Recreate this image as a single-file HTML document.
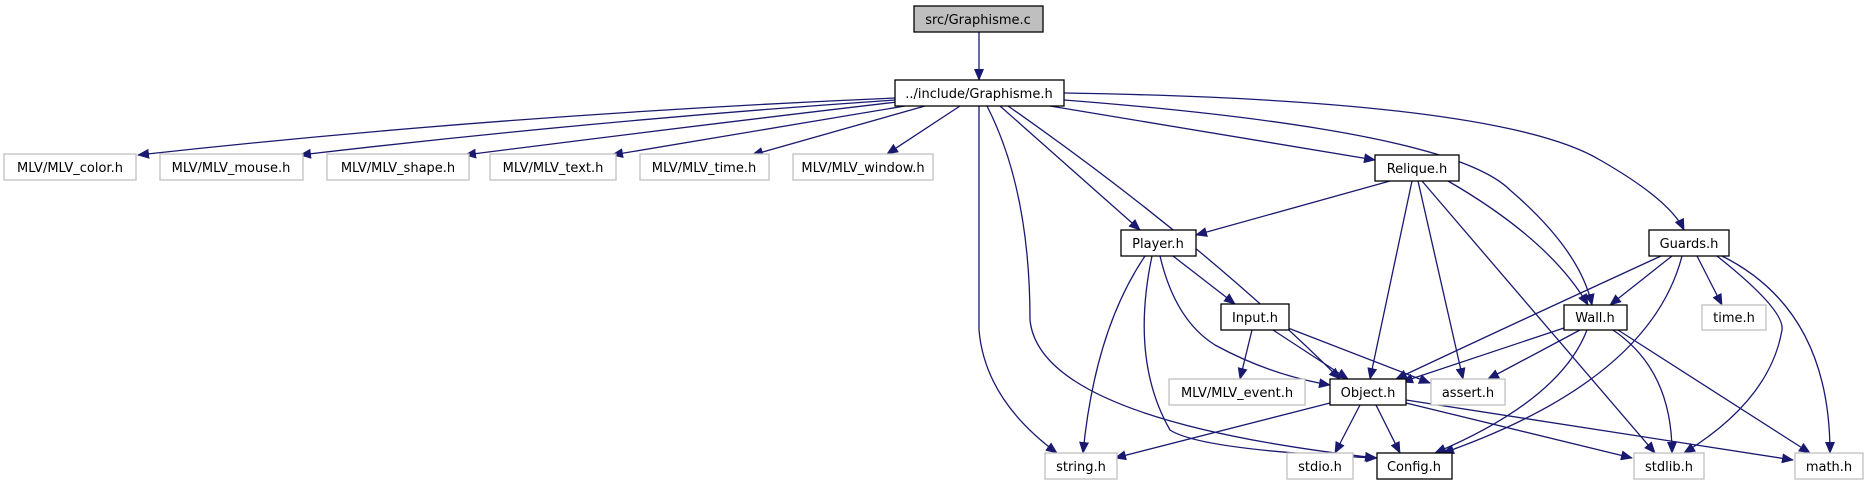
<!DOCTYPE html>
<html><head><meta charset="utf-8"><style>
html,body{margin:0;padding:0;background:#fff;}
svg{display:block;}
text{font-family:"DejaVu Sans","Liberation Sans",sans-serif;font-size:13px;fill:#000;text-anchor:middle;}
.g{fill:#fff;stroke:#bfbfbf;stroke-width:1.3;}
.b{fill:#fff;stroke:#000;stroke-width:1.3;}
.e{fill:none;stroke:#191970;stroke-width:1.3;}
</style></head><body>
<svg width="1869" height="485" viewBox="0 0 1869 485" xmlns="http://www.w3.org/2000/svg">
<defs>
<marker id="a" markerWidth="12" markerHeight="10" refX="11" refY="5" orient="auto" markerUnits="userSpaceOnUse">
<polygon points="0,0 12,5 0,10" fill="#191970"/>
</marker>
</defs>
<g marker-end="url(#a)">
<path class="e" d="M979,32 L979,80"/>
<path class="e" d="M895,98 Q500,115 138,155"/>
<path class="e" d="M895,100 Q600,120 300,155"/>
<path class="e" d="M897,102 Q700,125 465,155"/>
<path class="e" d="M905,106 Q760,130 612,155"/>
<path class="e" d="M925,106 Q840,130 752,155"/>
<path class="e" d="M960,106 L887,154"/>
<path class="e" d="M979,106 L979,330 Q985,400 1057,453"/>
<path class="e" d="M987,106 Q1030,190 1030,320 Q1040,420 1376,458"/>
<path class="e" d="M1000,106 L1140,230"/>
<path class="e" d="M1008,106 Q1200,240 1340,379"/>
<path class="e" d="M1050,106 L1375,160"/>
<path class="e" d="M1064,100 Q1450,130 1510,190 Q1580,250 1592,305"/>
<path class="e" d="M1064,93 Q1500,100 1600,160 Q1670,200 1684,230"/>
<path class="e" d="M1390,181 L1196,235"/>
<path class="e" d="M1412,181 L1370,379"/>
<path class="e" d="M1418,181 L1463,379"/>
<path class="e" d="M1422,181 L1655,453"/>
<path class="e" d="M1448,181 Q1550,240 1588,305"/>
<path class="e" d="M1173,256 L1235,304"/>
<path class="e" d="M1160,256 Q1175,320 1215,345 Q1270,375 1330,385"/>
<path class="e" d="M1145,256 Q1095,330 1083,453"/>
<path class="e" d="M1152,256 Q1130,360 1170,430 Q1200,450 1377,458"/>
<path class="e" d="M1252,330 L1240,379"/>
<path class="e" d="M1273,330 L1348,379"/>
<path class="e" d="M1288,328 L1430,383"/>
<path class="e" d="M1564,328 L1402,382"/>
<path class="e" d="M1580,330 L1488,379"/>
<path class="e" d="M1587,330 Q1560,400 1435,453"/>
<path class="e" d="M1613,330 Q1672,370 1672,453"/>
<path class="e" d="M1618,330 L1810,453"/>
<path class="e" d="M1661,256 Q1500,330 1396,379"/>
<path class="e" d="M1672,256 L1610,305"/>
<path class="e" d="M1682,256 Q1650,380 1443,453"/>
<path class="e" d="M1697,256 L1722,305"/>
<path class="e" d="M1717,256 Q1785,310 1782,330 Q1770,400 1684,453"/>
<path class="e" d="M1722,256 Q1830,310 1830,453"/>
<path class="e" d="M1330,403 L1115,458"/>
<path class="e" d="M1360,405 L1335,453"/>
<path class="e" d="M1376,405 L1400,453"/>
<path class="e" d="M1406,403 L1632,458"/>
<path class="e" d="M1406,400 L1793,460"/>
</g>
<rect x="914" y="6" width="129" height="26" fill="#bfbfbf" stroke="#000" stroke-width="1.3"/><text x="978" y="24">src/Graphisme.c</text>
<rect class="b" x="895" y="80" width="169" height="26"/><text x="979" y="98">../include/Graphisme.h</text>
<rect class="g" x="4" y="154" width="132" height="26"/><text x="70" y="172">MLV/MLV_color.h</text>
<rect class="g" x="160" y="154" width="143" height="26"/><text x="231" y="172">MLV/MLV_mouse.h</text>
<rect class="g" x="327" y="154" width="142" height="26"/><text x="398" y="172">MLV/MLV_shape.h</text>
<rect class="g" x="490" y="154" width="126" height="26"/><text x="553" y="172">MLV/MLV_text.h</text>
<rect class="g" x="640" y="154" width="129" height="26"/><text x="704" y="172">MLV/MLV_time.h</text>
<rect class="g" x="793" y="154" width="140" height="26"/><text x="863" y="172">MLV/MLV_window.h</text>
<rect class="b" x="1375" y="155" width="84" height="26"/><text x="1417" y="173">Relique.h</text>
<rect class="b" x="1121" y="230" width="75" height="26"/><text x="1158" y="248">Player.h</text>
<rect class="b" x="1649" y="230" width="80" height="26"/><text x="1689" y="248">Guards.h</text>
<rect class="b" x="1221" y="304" width="68" height="26"/><text x="1255" y="322">Input.h</text>
<rect class="b" x="1564" y="305" width="63" height="25"/><text x="1595" y="322">Wall.h</text>
<rect class="g" x="1702" y="305" width="64" height="25"/><text x="1734" y="322">time.h</text>
<rect class="g" x="1169" y="379" width="136" height="26"/><text x="1237" y="397">MLV/MLV_event.h</text>
<rect class="b" x="1330" y="379" width="76" height="26"/><text x="1368" y="397">Object.h</text>
<rect class="g" x="1431" y="379" width="74" height="26"/><text x="1468" y="397">assert.h</text>
<rect class="g" x="1045" y="453" width="72" height="26"/><text x="1081" y="471">string.h</text>
<rect class="g" x="1287" y="453" width="66" height="26"/><text x="1320" y="471">stdio.h</text>
<rect class="b" x="1377" y="453" width="75" height="26"/><text x="1414" y="471">Config.h</text>
<rect class="g" x="1634" y="453" width="70" height="26"/><text x="1669" y="471">stdlib.h</text>
<rect class="g" x="1795" y="453" width="68" height="26"/><text x="1829" y="471">math.h</text>
</svg>
</body></html>
